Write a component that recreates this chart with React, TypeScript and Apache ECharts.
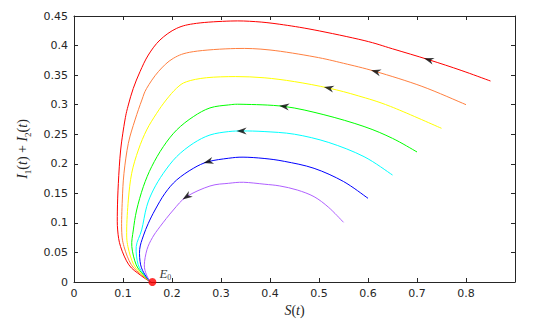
import React, { useEffect, useRef } from 'react';
import * as echarts from 'echarts';

// ---- data ----
const xTickValues = [0, 0.1, 0.2, 0.3, 0.4, 0.5, 0.6, 0.7, 0.8];
const yTickValues = [0, 0.05, 0.1, 0.15, 0.2, 0.25, 0.3, 0.35, 0.4, 0.45];

// each trajectory ordered from its starting point (right) to E0
const redCurve: [number, number][] = [
  [0.85, 0.34], [0.79, 0.358], [0.724, 0.376], [0.65, 0.3945], [0.592, 0.4085], [0.49, 0.4265],
  [0.42, 0.436], [0.37, 0.4405], [0.32, 0.4415], [0.25, 0.4376], [0.2095, 0.4291], [0.1755, 0.4094],
  [0.1517, 0.384], [0.1347, 0.3558], [0.121, 0.3276], [0.1109, 0.2995], [0.104, 0.2741],
  [0.0952, 0.2233], [0.0905, 0.1669], [0.0885, 0.12], [0.0891, 0.088], [0.095, 0.06],
  [0.112, 0.029], [0.135, 0.012], [0.156, 0],
];
const orangeCurve: [number, number][] = [
  [0.8, 0.3], [0.71, 0.331], [0.616, 0.356], [0.55, 0.37], [0.49, 0.381], [0.4, 0.3925],
  [0.33, 0.395], [0.2435, 0.3897], [0.2027, 0.3784], [0.1721, 0.3558], [0.1483, 0.3276],
  [0.1385, 0.3079], [0.1245, 0.2741], [0.1109, 0.2346], [0.102, 0.1839], [0.0986, 0.1388],
  [0.0973, 0.088], [0.102, 0.06], [0.117, 0.029], [0.138, 0.012], [0.156, 0],
];
const yellowCurve: [number, number][] = [
  [0.75, 0.26], [0.646, 0.297], [0.58, 0.315], [0.52, 0.328], [0.45, 0.339], [0.388, 0.3455],
  [0.33, 0.3475], [0.2707, 0.3456], [0.2299, 0.3389], [0.2095, 0.328], [0.188, 0.3079],
  [0.1687, 0.2854], [0.1483, 0.2572], [0.1313, 0.2233], [0.1177, 0.1839], [0.1109, 0.1388],
  [0.1075, 0.088], [0.11, 0.06], [0.122, 0.029], [0.14, 0.012], [0.156, 0],
];
const greenCurve: [number, number][] = [
  [0.7, 0.22], [0.65, 0.243], [0.592, 0.263], [0.51, 0.283], [0.429, 0.297], [0.345, 0.3006],
  [0.315, 0.2995], [0.2775, 0.2945], [0.2435, 0.2797], [0.2095, 0.2572], [0.1823, 0.229],
  [0.1585, 0.1951], [0.1415, 0.1613], [0.1279, 0.1218], [0.1211, 0.088], [0.118, 0.06],
  [0.127, 0.029], [0.142, 0.012], [0.156, 0],
];
const cyanCurve: [number, number][] = [
  [0.65, 0.181], [0.592, 0.212], [0.52, 0.236], [0.45, 0.25], [0.388, 0.2545], [0.345, 0.2555],
  [0.315, 0.2544], [0.2775, 0.2487], [0.2435, 0.2346], [0.2095, 0.2121], [0.1823, 0.1839],
  [0.1619, 0.1557], [0.1483, 0.1275], [0.1381, 0.088], [0.127, 0.06], [0.131, 0.029],
  [0.144, 0.012], [0.156, 0],
];
const blueCurve: [number, number][] = [
  [0.6, 0.1416], [0.55, 0.17], [0.49, 0.1923], [0.43, 0.204], [0.388, 0.209], [0.345, 0.2112],
  [0.315, 0.2093], [0.2741, 0.2036], [0.2435, 0.1923], [0.2095, 0.1726], [0.1857, 0.1501],
  [0.1653, 0.1218], [0.1517, 0.0993], [0.1415, 0.078], [0.134, 0.055], [0.136, 0.029],
  [0.145, 0.012], [0.156, 0],
];
const purpleCurve: [number, number][] = [
  [0.55, 0.101], [0.52, 0.126], [0.49, 0.1443], [0.4557, 0.1556], [0.42, 0.1625], [0.388, 0.1655],
  [0.346, 0.1687], [0.315, 0.1669], [0.2775, 0.1624], [0.2299, 0.1444], [0.2027, 0.1218],
  [0.1755, 0.0936], [0.16, 0.075], [0.149, 0.055], [0.1435, 0.029], [0.148, 0.012], [0.156, 0],
];

const curves = [redCurve, orangeCurve, yellowCurve, greenCurve, cyanCurve, blueCurve, purpleCurve];
const curveColors = ['#ff0000', '#ff8040', '#ffff00', '#00ff00', '#00ffff', '#0000ff', '#b060ff'];

const arrowS = [0.724, 0.616, 0.52, 0.429, 0.342, 0.2741, 0.2299];
const arrowI = [0.376, 0.356, 0.328, 0.297, 0.2555, 0.2036, 0.1444];

const equilibrium: [number, number] = [0.16, 0];
const equilibriumName = 'E0';

const AXIS_COLOR = '#262626';
const tickFont = 'DejaVu Sans';
const mathFont = 'Liberation Serif';

const fmt = (v: number) => parseFloat(v.toFixed(2)).toString();

// smooth Catmull-Rom path through pixel points
function smoothPath(pts: number[][]): string {
  if (pts.length < 2) return '';
  let d = `M${pts[0][0]},${pts[0][1]}`;
  const n = pts.length;
  for (let i = 0; i < n - 1; i++) {
    const p0 = pts[Math.max(i - 1, 0)];
    const p1 = pts[i];
    const p2 = pts[i + 1];
    const p3 = pts[Math.min(i + 2, n - 1)];
    const c1x = p1[0] + (p2[0] - p0[0]) / 6;
    const c1y = p1[1] + (p2[1] - p0[1]) / 6;
    const c2x = p2[0] - (p3[0] - p1[0]) / 6;
    const c2y = p2[1] - (p3[1] - p1[1]) / 6;
    d += ` C${c1x},${c1y} ${c2x},${c2y} ${p2[0]},${p2[1]}`;
  }
  return d;
}

export default function App() {
  const ref = useRef<HTMLDivElement>(null);

  useEffect(() => {
    document.body.style.margin = '0';
    if (!ref.current) return;
    const chart = echarts.init(ref.current, undefined, { renderer: 'svg' });

    const mathRich = {
      i: { fontFamily: mathFont, fontStyle: 'italic', fontSize: 14, lineHeight: 20, color: AXIS_COLOR, verticalAlign: 'middle' },
      r: { fontFamily: mathFont, fontStyle: 'normal', fontSize: 14, lineHeight: 20, color: AXIS_COLOR, verticalAlign: 'middle' },
      s: { fontFamily: mathFont, fontStyle: 'normal', fontSize: 9, lineHeight: 9, color: AXIS_COLOR, verticalAlign: 'bottom' },
    };

    const baseAxis = {
      type: 'value',
      splitLine: { show: false },
      axisLine: { show: true, onZero: false, lineStyle: { color: AXIS_COLOR, width: 1 } },
      axisTick: { show: true, inside: true, length: 4, lineStyle: { color: AXIS_COLOR } },
    };

    const curveSeries = curves.map((c, k) => ({
      type: 'custom',
      coordinateSystem: 'cartesian2d',
      data: c,
      encode: { x: 0, y: 1 },
      silent: true,
      z: 2,
      renderItem: (params: any, api: any) => {
        if (params.dataIndex !== 0) return null;
        const pts = c.map((p) => api.coord(p));
        return {
          type: 'path',
          shape: { pathData: smoothPath(pts) },
          style: { stroke: curveColors[k], fill: 'none', lineWidth: 1 },
        };
      },
    }));

    const option: any = {
      animation: false,
      backgroundColor: '#ffffff',
      grid: { left: 74, right: 19, top: 16, bottom: 38, containLabel: false, outerBoundsMode: 'none' },
      xAxis: [
        {
          ...baseAxis,
          position: 'bottom',
          min: 0,
          max: 0.9,
          interval: 0.1,
          axisLabel: {
            fontFamily: tickFont,
            fontSize: 11,
            color: AXIS_COLOR,
            margin: 6,
            formatter: (v: number) => (xTickValues.some((t) => Math.abs(t - v) < 1e-9) ? fmt(v) : ''),
          },
          name: '{i|S}{r|(}{i|t}{r|)}',
          nameLocation: 'middle',
          nameGap: 12,
          nameTextStyle: { rich: mathRich },
        },
        {
          ...baseAxis,
          position: 'top',
          min: 0,
          max: 0.9,
          interval: 0.1,
          axisLabel: { show: false },
        },
      ],
      yAxis: [
        {
          ...baseAxis,
          position: 'left',
          min: 0,
          max: 0.45,
          interval: 0.05,
          axisLabel: {
            fontFamily: tickFont,
            fontSize: 11,
            color: AXIS_COLOR,
            margin: 6,
            formatter: (v: number) => (yTickValues.some((t) => Math.abs(t - v) < 1e-9) ? fmt(v) : ''),
          },
          name: '{i|I}{s|1}{r|(}{i|t}{r|) + }{i|I}{s|2}{r|(}{i|t}{r|)}',
          nameLocation: 'middle',
          nameGap: 36,
          nameTextStyle: { rich: mathRich },
        },
        {
          ...baseAxis,
          position: 'right',
          min: 0,
          max: 0.45,
          interval: 0.05,
          axisLabel: { show: false },
        },
      ],
      series: [
        ...curveSeries,
        {
          type: 'scatter',
          data: [equilibrium],
          symbol: 'circle',
          symbolSize: 8,
          itemStyle: { color: '#ff0000' },
          z: 5,
          label: {
            show: true,
            position: 'right',
            offset: [-2, -9],
            formatter: '{i|E}{s|0}',
            rich: {
              i: { fontFamily: mathFont, fontStyle: 'italic', fontSize: 13, lineHeight: 16, color: '#000', verticalAlign: 'middle' },
              s: { fontFamily: mathFont, fontSize: 8, lineHeight: 8, color: '#000', verticalAlign: 'bottom' },
            },
          },
          name: equilibriumName,
        },
      ],
    };

    chart.setOption(option);

    // arrow directions from the trajectory itself, in pixel space
    const rotations = arrowS.map((s, k) => {
      const c = curves[k];
      let best = 0;
      let bd = Infinity;
      c.forEach((p, j) => {
        const d = Math.hypot(p[0] - s, p[1] - arrowI[k]);
        if (d < bd) { bd = d; best = j; }
      });
      const a = c[Math.max(0, best - 1)];
      const b = c[Math.min(c.length - 1, best + 1)];
      const pa = chart.convertToPixel({ gridIndex: 0 }, a) as number[];
      const pb = chart.convertToPixel({ gridIndex: 0 }, b) as number[];
      const dx = pb[0] - pa[0];
      const dy = pb[1] - pa[1];
      const theta = (Math.atan2(-dy, dx) * 180) / Math.PI;
      return theta - 90;
    });

    chart.setOption({
      series: [
        ...option.series,
        {
          type: 'scatter',
          data: arrowS.map((s, k) => ({ value: [s, arrowI[k]], symbolRotate: rotations[k] })),
          symbol: 'path://M5,0 L10,13 L5,9 L0,13 Z',
          symbolSize: [7, 10],
          itemStyle: { color: '#000000' },
          z: 6,
          silent: true,
        },
      ],
    });

    return () => chart.dispose();
  }, []);

  return <div ref={ref} style={{ width: 534, height: 320 }} />;
}
